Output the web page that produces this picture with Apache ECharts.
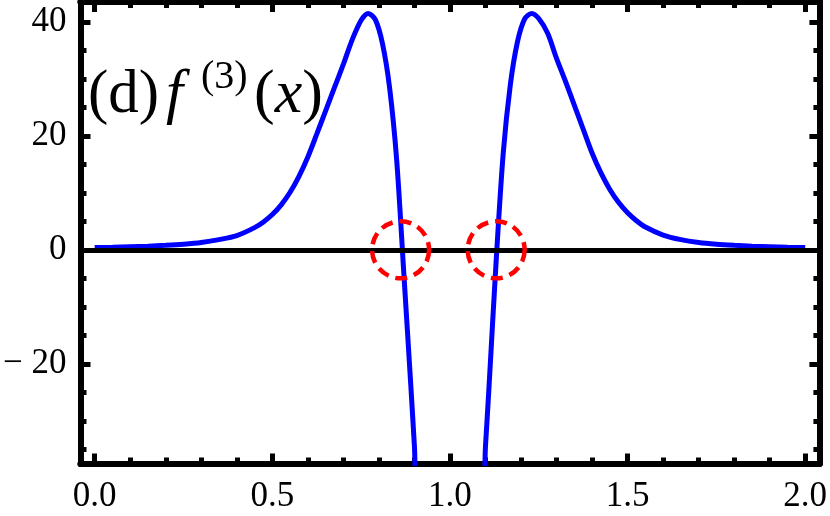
<!DOCTYPE html>
<html><head><meta charset="utf-8">
<script src="https://cdn.jsdelivr.net/npm/echarts@6/dist/echarts.min.js"></script>
<style>html,body{margin:0;padding:0;background:#fff}#c{width:830px;height:516px}</style>
</head><body><div id="c"></div>
<script>
// ---- data ----
const xValues = [0, 0.05, 0.1, 0.15, 0.2, 0.25, 0.3, 0.35, 0.4, 0.45, 0.475, 0.5, 0.525, 0.55, 0.575, 0.6, 0.625, 0.65, 0.675, 0.7, 0.725, 0.75, 0.77, 0.79, 0.81, 0.83, 0.85, 0.87, 0.89, 0.9, 0.91,
                 1.09, 1.1, 1.11, 1.13, 1.15, 1.17, 1.19, 1.21, 1.23, 1.25, 1.275, 1.3, 1.325, 1.35, 1.375, 1.4, 1.425, 1.45, 1.475, 1.5, 1.525, 1.55, 1.6, 1.65, 1.7, 1.75, 1.8, 1.85, 1.9, 1.95, 2.0];
const yValues = [0.4, 0.45, 0.55, 0.65, 0.8, 1.0, 1.3, 1.8, 2.5, 3.9, 4.9, 6.2, 7.9, 10.1, 12.9, 16.3, 20.3, 24.4, 28.5, 32.6, 36.9, 40.3, 41.5, 40.4, 36.2, 28.5, 15.8, -4, -24, -34.5, -45,
                 -45, -34.5, -24, -2, 17, 29, 36.5, 40.5, 41.5, 40.6, 38.0, 33.6, 29.6, 25.4, 21.2, 17.0, 13.5, 10.6, 8.3, 6.5, 5.1, 4.0, 2.6, 1.8, 1.3, 1.0, 0.8, 0.65, 0.55, 0.45, 0.4];
const zeroCrossings = [0.861, 1.130];
const xMajorTicks = [0, 0.5, 1, 1.5, 2];
const xMinorTicks = [0.1, 0.2, 0.3, 0.4, 0.6, 0.7, 0.8, 0.9, 1.1, 1.2, 1.3, 1.4, 1.6, 1.7, 1.8, 1.9];
const yMajorTicks = [-20, 0, 20, 40];
const yMinorTicks = [-35, -30, -25, -15, -10, -5, 5, 10, 15, 25, 30, 35];

const X_MIN = -0.04, X_MAX = 2.04, Y_MIN = -37.5, Y_MAX = 43.5;
const FONT = 'Liberation Serif';

function xAx(pos, ticks, len, labels) {
  return {
    type: 'value', position: pos, min: X_MIN, max: X_MAX,
    axisLine: { show: true, onZero: false, lineStyle: { color: '#000', width: 6 } },
    axisTick: { show: true, inside: true, length: len, customValues: ticks, lineStyle: { color: '#000', width: 5 } },
    axisLabel: { show: labels, customValues: ticks, margin: 16, color: '#000', fontFamily: FONT, fontSize: 35,
                 formatter: v => v.toFixed(1) },
    splitLine: { show: false }
  };
}
function yAx(pos, ticks, len, labels) {
  return {
    type: 'value', position: pos, min: Y_MIN, max: Y_MAX,
    axisLine: { show: true, onZero: false, lineStyle: { color: '#000', width: 6 } },
    axisTick: { show: true, inside: true, length: len, customValues: ticks, lineStyle: { color: '#000', width: 5 } },
    axisLabel: { show: labels, customValues: ticks, margin: 14, color: '#000', fontFamily: FONT, fontSize: 35,
                 formatter: v => v < 0 ? '\u2212 ' + Math.abs(v) : String(v) },
    splitLine: { show: false }
  };
}

const chart = echarts.init(document.getElementById('c'), null, { renderer: 'canvas' });
chart.setOption({
  animation: false,
  backgroundColor: '#fff',
  grid: { left: 76, right: 10, top: 2, bottom: 52.5, containLabel: false },
  xAxis: [
    xAx('bottom', xMajorTicks, 10, true),
    xAx('bottom', xMinorTicks, 6, false),
    xAx('top', xMajorTicks, 10, false),
    xAx('top', xMinorTicks, 6, false)
  ],
  yAxis: [
    yAx('left', yMajorTicks, 10, true),
    yAx('left', yMinorTicks, 6, false),
    yAx('right', yMajorTicks, 10, false),
    yAx('right', yMinorTicks, 6, false)
  ],
  series: [
    {
      type: 'line', xAxisIndex: 0, yAxisIndex: 0, z: 3,
      data: xValues.map((x, i) => [x, yValues[i]]),
      showSymbol: false, smooth: 0.3, clip: true,
      lineStyle: { color: '#0000ff', width: 5 }
    },
    {
      type: 'line', xAxisIndex: 0, yAxisIndex: 0, z: 4, data: [],
      markLine: {
        silent: true, symbol: ['none', 'none'], label: { show: false },
        lineStyle: { color: '#000', width: 5, type: 'solid' },
        data: [{ yAxis: 0 }]
      }
    },
    {
      type: 'scatter', xAxisIndex: 0, yAxisIndex: 0, z: 5,
      data: zeroCrossings.map(x => [x, 0]),
      symbol: 'circle', symbolSize: 57,
      itemStyle: { color: 'rgba(0,0,0,0)', opacity: 1, borderColor: '#ff0000', borderWidth: 4.5, borderType: [12, 7] }
    }
  ],
  graphic: [
    { type: 'text', left: 88, top: 65, z: 10, style: { text: '(d)', fontFamily: FONT, fontSize: 61, fill: '#000' } },
    { type: 'text', left: 166, top: 65, z: 10, style: { text: 'f', fontFamily: FONT, fontStyle: 'italic', fontSize: 61, fill: '#000' } },
    { type: 'text', left: 201, top: 57, z: 10, style: { text: '(3)', fontFamily: FONT, fontSize: 40, fill: '#000' } },
    { type: 'text', left: 254, top: 65, z: 10, style: {
        text: '{n|(}{i|x}{n|)}',
        rich: { n: { fontFamily: FONT, fontSize: 62, fill: '#000' }, i: { fontFamily: FONT, fontStyle: 'italic', fontSize: 62, fill: '#000' } } } }
  ]
});
</script>
</body></html>
